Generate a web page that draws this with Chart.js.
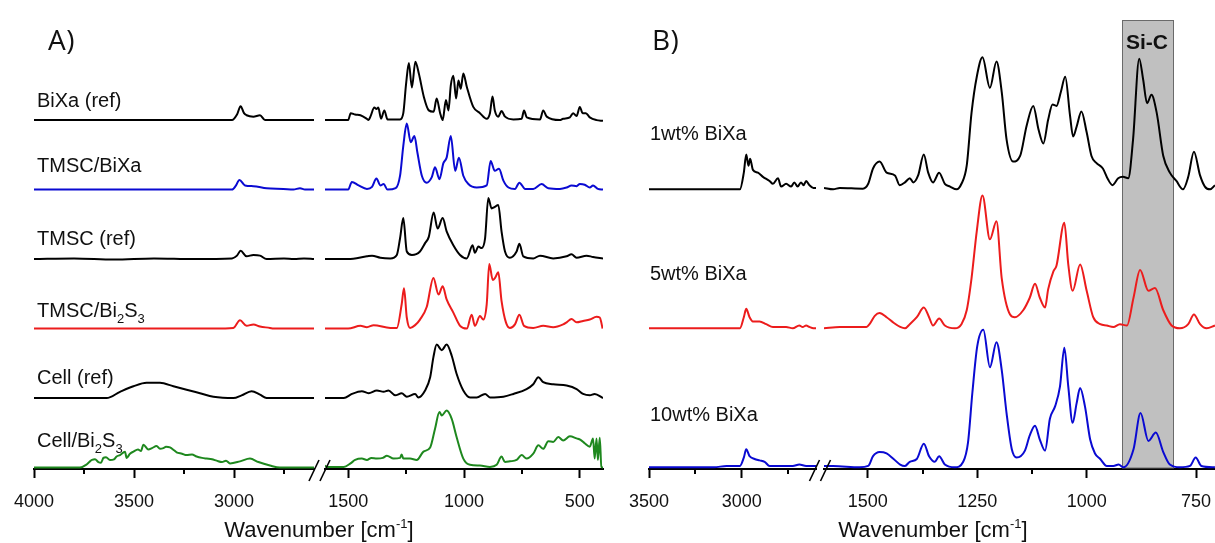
<!DOCTYPE html>
<html lang="en">
<head>
<meta charset="UTF-8" />
<title>FTIR spectra</title>
<script src="https://cdn.jsdelivr.net/npm/chart.js"></script>
<style>
  body { margin: 0; width: 1215px; height: 543px; overflow: hidden; background: #fff; position: relative;
         font-family: "Liberation Sans", Arial, sans-serif; color: #111; }
  canvas { position: absolute; top: 0; }
  .lbl { position: absolute; font-size: 20px; line-height: 20px; white-space: nowrap; }
  .lbl sub { font-size: 13px; vertical-align: baseline; position: relative; top: 6px; }
  .panel { position: absolute; font-family: "Open Sans", sans-serif; font-size: 28px; line-height: 28px; letter-spacing: 0.5px; }
  .title { position: absolute; font-size: 22px; line-height: 22px; white-space: nowrap; transform: translateX(-50%); }
  .title sup { font-size: 13px; vertical-align: baseline; position: relative; top: -9px; }
  .band { position: absolute; font-weight: bold; font-size: 21px; line-height: 21px; transform: translateX(-50%); }
</style>
</head>
<body>
  <canvas id="aHi"></canvas>
  <canvas id="aLo"></canvas>
  <canvas id="bHi"></canvas>
  <canvas id="bLo"></canvas>

  <div class="panel" style="left:48px; top:25px">A)</div>
  <div class="panel" style="left:652px; top:25px">B)</div>

  <div class="lbl" style="left:37px; top:90px">BiXa (ref)</div>
  <div class="lbl" style="left:37px; top:155px">TMSC/BiXa</div>
  <div class="lbl" style="left:37px; top:228px">TMSC (ref)</div>
  <div class="lbl" style="left:37px; top:300px">TMSC/Bi<sub>2</sub>S<sub>3</sub></div>
  <div class="lbl" style="left:37px; top:367px">Cell (ref)</div>
  <div class="lbl" style="left:37px; top:430px">Cell/Bi<sub>2</sub>S<sub>3</sub></div>

  <div class="lbl" style="left:650px; top:123px">1wt% BiXa</div>
  <div class="lbl" style="left:650px; top:263px">5wt% BiXa</div>
  <div class="lbl" style="left:650px; top:404px">10wt% BiXa</div>

  <div class="band" style="left:1147px; top:31px">Si-C</div>

  <div class="title" style="left:319px; top:519px">Wavenumber [cm<sup>-1</sup>]</div>
  <div class="title" style="left:933px; top:519px">Wavenumber [cm<sup>-1</sup>]</div>

<script>
// ---- panel A: [wavenumber, intensity] ----
const bixaRef = [[4000,0],[3010,0],[2985,0.08],[2967,0.2],[2950,0.1],[2937,0.07],[2903,0.05],[2870,0.07],[2845,0],[2600,0],
  [1600,0],[1500,0],[1489,0.1],[1470,0.08],[1447,0.07],[1420,0.02],[1412,0],[1404,0.05],[1387,0.18],[1378,0.16],[1370,0.18],[1358,0.02],
  [1344,0.14],[1330,0.01],[1276,0.01],[1262,0.1],[1250,0.52],[1238,0.82],[1225,0.47],[1210,0.84],[1195,0.67],[1173,0.33],[1152,0.14],
  [1131,0.12],[1118,0.31],[1103,0.1],[1092,0],[1078,0.29],[1067,0.14],[1057,0.5],[1046,0.64],[1034,0.31],[1024,0.57],[1014,0.45],
  [1003,0.67],[988,0.48],[960,0.19],[931,0.1],[902,0.02],[888,0.1],[877,0.34],[867,0.14],[852,0.05],[838,0.13],[823,0.05],[787,0.01],
  [751,0.02],[741,0.14],[729,0.04],[672,0.01],[658,0.14],[643,0.05],[586,0],[572,0.02],[543,0.04],[529,0.1],[514,0.06],[500,0.19],
  [488,0.1],[474,0.1],[457,0.04],[428,0],[400,-0.01]];
const tmscBixa = [[4000,0],[3010,0],[2990,0.06],[2973,0.14],[2945,0.06],[2903,0.05],[2837,0.02],[2753,0.01],[2703,0],[2670,0.02],[2645,0],[2600,0],
  [1600,0],[1500,0],[1484,0.11],[1455,0.06],[1419,0.01],[1397,0.04],[1378,0.16],[1361,0.06],[1347,0.08],[1330,0],[1295,0.02],[1276,0.2],
  [1262,0.63],[1247,0.95],[1230,0.68],[1214,0.77],[1201,0.53],[1182,0.2],[1161,0.1],[1139,0.18],[1125,0.32],[1106,0.15],[1089,0.38],
  [1075,0.46],[1057,0.77],[1038,0.27],[1022,0.46],[1003,0.2],[981,0.08],[945,0.03],[902,0.06],[885,0.41],[867,0.27],[849,0.3],[830,0.13],
  [808,0.03],[780,0.01],[761,0.1],[736,0.01],[701,0.01],[665,0.08],[636,0.02],[586,0.01],[557,0.03],[536,0.06],[514,0.05],[500,0.08],
  [479,0.07],[457,0.03],[443,0.06],[422,0.01],[400,0]];
const tmscRef = [[4000,0],[3800,0.01],[3600,-0.005],[3400,0.01],[3200,0],[3010,0.01],[2985,0.05],[2967,0.12],[2937,0.04],[2903,0.06],
  [2870,0.05],[2837,0],[2750,0.01],[2700,0],[2650,0.01],[2600,0],
  [1600,0],[1500,0],[1419,0.04],[1397,0.05],[1361,0.02],[1318,0.01],[1290,0.06],[1276,0.3],[1262,0.59],[1247,0.11],[1225,0.06],[1190,0.11],
  [1168,0.23],[1152,0.32],[1131,0.67],[1114,0.44],[1092,0.59],[1075,0.4],[1046,0.2],[1017,0.06],[988,0.01],[963,0.2],[953,0.09],[938,0.18],
  [924,0.16],[909,0.3],[895,0.88],[881,0.73],[867,0.75],[852,0.78],[838,0.4],[823,0.11],[802,0.02],[773,0.11],[761,0.22],[744,0.04],
  [701,0.01],[672,0.05],[615,0.01],[557,0.04],[536,0.07],[514,0.02],[471,0.05],[443,0.03],[400,0.01]];
const tmscBi2s3 = [[4000,0],[3100,0],[3003,0.01],[2970,0.12],[2937,0.04],[2903,0.06],[2870,0.03],[2820,0.01],[2803,0],[2600,0],
  [1600,0],[1500,0],[1447,0.04],[1419,0.02],[1390,0.05],[1318,0.01],[1290,0.01],[1269,0.35],[1259,0.58],[1247,0.16],[1233,0.01],[1211,0.05],
  [1190,0.13],[1161,0.31],[1132,0.73],[1110,0.49],[1092,0.61],[1075,0.42],[1046,0.23],[1017,0.04],[988,0],[967,0.2],[953,0.04],[931,0.18],
  [917,0.13],[902,0.35],[891,0.93],[876,0.7],[866,0.73],[852,0.81],[838,0.4],[819,0.09],[802,0.01],[780,0.06],[761,0.2],[741,0.04],
  [701,0.01],[658,0.04],[615,0.02],[572,0.06],[557,0.09],[536,0.14],[514,0.09],[486,0.11],[457,0.13],[428,0.17],[414,0.16],[408,0.1],[402,0]];
const cellRef = [[4000,0],[3637,0],[3570,0.09],[3503,0.17],[3437,0.22],[3370,0.22],[3303,0.17],[3237,0.12],[3170,0.07],[3103,0.02],
  [3003,0],[2962,0.04],[2912,0.1],[2870,0.05],[2837,0],[2600,0],
  [1600,0],[1519,0],[1484,0.06],[1441,0.1],[1412,0.07],[1376,0.11],[1347,0.09],[1326,0.11],[1297,0.04],[1269,0.07],[1247,0.02],[1211,0.06],
  [1197,0.01],[1168,0.11],[1146,0.3],[1132,0.59],[1118,0.77],[1096,0.69],[1075,0.77],[1053,0.61],[1032,0.35],[1003,0.11],[974,0.01],
  [945,0.01],[909,0.06],[888,0.01],[830,0.02],[787,0.06],[730,0.13],[701,0.2],[679,0.3],[658,0.23],[615,0.2],[557,0.18],[514,0.13],
  [486,0.06],[457,0.04],[436,0.06],[400,0]];
const cellBi2s3 = [[4000,0],[3770,0],[3740,0.04],[3720,0.09],[3710,0.11],[3695,0.12],[3678,0.08],[3665,0.07],[3653,0.14],[3640,0.15],
  [3620,0.11],[3600,0.12],[3587,0.16],[3570,0.18],[3545,0.23],[3537,0.14],[3520,0.2],[3503,0.23],[3480,0.26],[3465,0.24],[3453,0.33],
  [3428,0.26],[3410,0.28],[3387,0.31],[3370,0.27],[3353,0.28],[3340,0.3],[3320,0.29],[3300,0.25],[3287,0.22],[3260,0.2],[3237,0.18],
  [3210,0.19],[3187,0.16],[3160,0.14],[3137,0.13],[3110,0.12],[3087,0.1],[3060,0.08],[3040,0.1],[3020,0.06],[2970,0.09],[2920,0.13],
  [2878,0.08],[2820,0.03],[2770,0],[2600,0],
  [1600,0.03],[1592,0.01],[1519,0.01],[1490,0.06],[1470,0.11],[1441,0.13],[1419,0.11],[1400,0.14],[1376,0.13],[1350,0.14],[1333,0.17],
  [1304,0.13],[1276,0.14],[1269,0.19],[1262,0.13],[1233,0.13],[1204,0.11],[1175,0.23],[1146,0.29],[1125,0.56],[1106,0.8],[1096,0.75],
  [1075,0.82],[1053,0.7],[1032,0.44],[1003,0.13],[974,0.04],[931,0.03],[888,0.01],[859,0.04],[838,0.16],[823,0.08],[802,0.09],[773,0.11],
  [751,0.18],[730,0.13],[701,0.2],[679,0.32],[658,0.27],[636,0.38],[615,0.37],[593,0.44],[572,0.39],[543,0.45],[514,0.42],[497,0.4],
  [479,0.35],[457,0.3],[443,0.42],[436,0.13],[428,0.42],[422,0.11],[414,0.43],[407,0.01],[400,0]];

const seriesA = [bixaRef, tmscBixa, tmscRef, tmscBi2s3, cellRef, cellBi2s3];
const offsetsA = [5, 4, 3, 2, 1, 0];
const colorsA = ['#000000', '#0a0ad2', '#000000', '#ec1c1c', '#000000', '#1e881e'];

// ---- panel B ----
const bixa1 = [[3500,0],[3010,0],[2989,0.12],[2976,0.25],[2964,0.17],[2955,0.22],[2940,0.14],[2913,0.12],[2886,0.09],[2850,0.06],
  [2832,0.04],[2805,0.08],[2788,0.02],[2761,0.04],[2734,0.02],[2717,0.05],[2699,0.02],[2681,0.05],[2667,0.03],[2653,0.06],[2636,0.03],
  [2614,0.01],[2600,0.01],
  [1600,0.01],[1579,0],[1564,0.01],[1511,0.005],[1499,0.04],[1488,0.15],[1473,0.2],[1457,0.12],[1438,0.1],[1427,0.03],[1415,0.05],
  [1404,0.08],[1396,0.05],[1385,0.1],[1372,0.25],[1362,0.12],[1351,0.05],[1337,0.12],[1324,0.04],[1312,0.02],[1297,0],[1286,0.04],
  [1274,0.17],[1263,0.55],[1251,0.81],[1238,0.95],[1221,0.73],[1206,0.92],[1194,0.7],[1183,0.36],[1168,0.2],[1152,0.24],[1137,0.46],
  [1122,0.6],[1110,0.43],[1099,0.33],[1088,0.5],[1078,0.61],[1069,0.6],[1059,0.7],[1049,0.81],[1038,0.53],[1031,0.38],[1023,0.45],
  [1012,0.56],[1000,0.41],[989,0.24],[978,0.19],[963,0.15],[951,0.07],[941,0.03],[928,0.08],[917,0.09],[905,0.08],[894,0.36],[880,0.94],
  [871,0.79],[862,0.62],[852,0.68],[840,0.55],[825,0.24],[810,0.12],[795,0.06],[780,0],[768,0.09],[755,0.27],[741,0.1],[730,0.02],
  [718,0],[707,0.03],[690,0.03]];
const bixa5 = [[3500,0],[3010,0],[2989,0.08],[2976,0.14],[2958,0.08],[2940,0.05],[2904,0.05],[2868,0.03],[2832,0.01],[2797,0.01],
  [2761,0.01],[2725,0],[2690,0.02],[2672,0.01],[2653,0.02],[2636,0.01],[2614,0],[2600,0],
  [1600,0],[1564,0.01],[1503,0.01],[1496,0.03],[1484,0.09],[1473,0.11],[1457,0.08],[1441,0.04],[1426,0.01],[1415,0],[1404,0.03],
  [1388,0.08],[1372,0.15],[1360,0.08],[1351,0.02],[1337,0.07],[1324,0.02],[1301,0],[1286,0.03],[1274,0.13],[1263,0.36],[1251,0.7],
  [1238,0.955],[1221,0.64],[1206,0.77],[1194,0.36],[1175,0.1],[1164,0.08],[1145,0.13],[1130,0.22],[1118,0.32],[1107,0.22],[1095,0.15],
  [1088,0.28],[1076,0.41],[1069,0.45],[1051,0.76],[1042,0.46],[1032,0.27],[1015,0.46],[1000,0.27],[985,0.08],[969,0.03],[954,0.02],
  [939,0.01],[924,0.03],[908,0.02],[893,0.22],[878,0.42],[859,0.27],[844,0.29],[825,0.13],[806,0.02],[787,0],[768,0.03],[755,0.1],
  [741,0.03],[726,0],[707,0.02],[690,0.02]];
const bixa10 = [[3500,0],[3150,0],[3082,0.01],[3010,0.01],[2989,0.07],[2976,0.13],[2958,0.08],[2931,0.06],[2904,0.05],[2877,0.04],
  [2850,0.01],[2797,0.01],[2725,0.01],[2690,0.02],[2653,0.01],[2600,0.01],
  [1600,0.01],[1579,0.01],[1519,0],[1499,0.01],[1488,0.08],[1473,0.11],[1457,0.1],[1441,0.06],[1426,0.02],[1415,0.01],[1404,0.04],
  [1388,0.06],[1372,0.17],[1360,0.08],[1347,0.04],[1337,0.08],[1324,0.02],[1301,0],[1282,0.04],[1271,0.18],[1261,0.54],[1250,0.87],
  [1236,0.99],[1221,0.72],[1206,0.9],[1194,0.7],[1183,0.39],[1171,0.13],[1160,0.07],[1141,0.12],[1130,0.23],[1118,0.3],[1107,0.2],
  [1095,0.12],[1084,0.35],[1072,0.44],[1061,0.58],[1051,0.86],[1042,0.58],[1032,0.32],[1023,0.46],[1015,0.57],[1004,0.44],[992,0.2],
  [981,0.1],[969,0.06],[954,0.01],[939,0.01],[927,0.02],[916,0],[893,0.13],[877,0.39],[859,0.19],[842,0.25],[825,0.11],[810,0.02],
  [787,0],[764,0.01],[751,0.07],[738,0.01],[707,0],[690,0]];

const seriesB = [bixa1, bixa5, bixa10];
const offsetsB = [2, 1, 0];
const colorsB = ['#000000', '#ec1c1c', '#0a0ad2'];
const siCBand = [920, 802];

// ---- layout ----
const PAD = 40;
const H = 543;
const FONT = '"Liberation Sans", Arial, sans-serif';

const minorTicks = {
  id: 'minorTicks',
  afterDraw(chart, args, opts) {
    if (!opts.values) return;
    const sx = chart.scales.x, ctx = chart.ctx, b = chart.chartArea.bottom;
    ctx.save();
    ctx.strokeStyle = '#000';
    ctx.lineWidth = 2;
    opts.values.forEach(v => {
      const px = Math.round(sx.getPixelForValue(v));
      ctx.beginPath(); ctx.moveTo(px, b); ctx.lineTo(px, b + 5); ctx.stroke();
    });
    ctx.restore();
  }
};

const breakMarks = {
  id: 'breakMarks',
  afterDraw(chart, args, opts) {
    if (opts.at == null) return;
    const ctx = chart.ctx, b = chart.chartArea.bottom;
    const c = opts.at - chart.canvas.offsetLeft;
    ctx.save();
    ctx.strokeStyle = '#000';
    ctx.lineWidth = 1.6;
    [c - 5.5, c + 5.5].forEach(x => {
      ctx.beginPath(); ctx.moveTo(x - 5, b + 12); ctx.lineTo(x + 5, b - 9); ctx.stroke();
    });
    ctx.restore();
  }
};

const bandBox = {
  id: 'bandBox',
  beforeDatasetsDraw(chart, args, opts) {
    if (!opts.range) return;
    const sx = chart.scales.x, ca = chart.chartArea, ctx = chart.ctx;
    const x1 = Math.round(sx.getPixelForValue(opts.range[0])) + 0.5;
    const x2 = Math.round(sx.getPixelForValue(opts.range[1])) + 0.5;
    ctx.save();
    ctx.fillStyle = '#c0c0c0';
    ctx.strokeStyle = '#6a6a6a';
    ctx.lineWidth = 1;
    ctx.fillRect(x1, ca.top + 0.5, x2 - x1, ca.bottom - ca.top - 1.5);
    ctx.strokeRect(x1, ca.top + 0.5, x2 - x1, ca.bottom - ca.top - 1.5);
    ctx.restore();
  }
};

function segment(id, o) {
  const cv = document.getElementById(id);
  cv.width = o.right - o.left + 2 * PAD;
  cv.height = H;
  cv.style.left = (o.left - PAD) + 'px';
  const datasets = o.series.map((s, i) => ({
    data: s.filter(p => p[0] <= o.max && p[0] >= o.min).map(p => ({ x: p[0], y: p[1] + o.offsets[i] })),
    borderColor: o.colors[i],
    borderWidth: 2,
    pointRadius: 0,
    cubicInterpolationMode: 'monotone',
    fill: false
  }));
  return new Chart(cv, {
    type: 'line',
    data: { datasets },
    options: {
      responsive: false,
      animation: false,
      events: [],
      layout: { padding: { left: PAD, right: PAD, top: 20, bottom: 0 } },
      plugins: {
        legend: { display: false },
        tooltip: { enabled: false },
        minorTicks: { values: o.minor },
        breakMarks: { at: o.breakAt },
        bandBox: { range: o.band }
      },
      scales: {
        x: {
          type: 'linear',
          reverse: true,
          min: o.min,
          max: o.max,
          afterBuildTicks: s => { s.ticks = o.major.map(v => ({ value: v })); },
          afterFit: s => { s.height = H - 469; },
          grid: { drawOnChartArea: false, drawTicks: true, tickLength: 9, tickWidth: 2, tickColor: '#000' },
          border: { display: true, color: '#000', width: 2 },
          ticks: { color: '#111', font: { size: 18, family: FONT }, padding: 13, maxRotation: 0, autoSkip: false,
                   callback: v => String(v) }
        },
        y: { display: false, min: o.yMin, max: o.yMax }
      }
    },
    plugins: [bandBox, minorTicks, breakMarks]
  });
}

// panel A
const yA = { yMin: -0.02, yMax: -0.02 + 449 / 69.5 };
segment('aHi', Object.assign({ left: 34, right: 314, min: 2600, max: 4000, major: [4000, 3500, 3000], minor: [3750, 3250, 2750],
  series: seriesA, offsets: offsetsA, colors: colorsA }, yA));
segment('aLo', Object.assign({ left: 325, right: 603, min: 400, max: 1600, major: [1500, 1000, 500], minor: [1250, 750],
  series: seriesA, offsets: offsetsA, colors: colorsA, breakAt: 319.5 }, yA));

// panel B
const yB = { yMin: -0.012, yMax: -0.012 + 449 / 139 };
segment('bHi', Object.assign({ left: 649, right: 816, min: 2600, max: 3500, major: [3500, 3000], minor: [3250, 2750],
  series: seriesB, offsets: offsetsB, colors: colorsB }, yB));
segment('bLo', Object.assign({ left: 824, right: 1218, min: 700, max: 1600, major: [1500, 1250, 1000, 750], minor: [1375, 1125],
  series: seriesB, offsets: offsetsB, colors: colorsB, breakAt: 820, band: siCBand }, yB));
</script>
</body>
</html>
